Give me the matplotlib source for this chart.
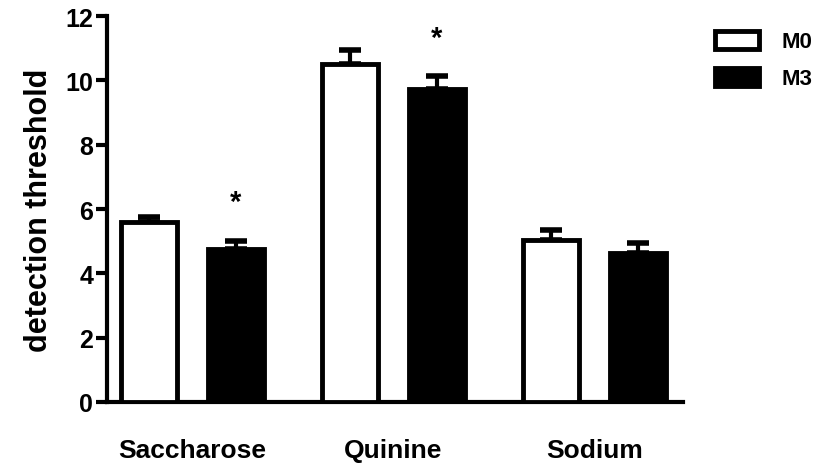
import matplotlib.pyplot as plt
import numpy as np

plt.rcParams['font.family'] = ['Liberation Sans', 'DejaVu Sans']
plt.rcParams['font.weight'] = 'bold'

# data
categories = ['Saccharose', 'Quinine', 'Sodium']
m0_mean = [5.6, 10.52, 5.05]
m0_err = [0.15, 0.42, 0.3]
m3_mean = [4.75, 9.72, 4.63]
m3_err = [0.27, 0.4, 0.3]
m3_star = [True, True, False]

fig = plt.figure(figsize=(8.24, 4.64), dpi=100)
ax = fig.add_axes([107/824, 1 - 403/464, (683-107)/824, (403-17)/464])

x = np.arange(len(categories))
off = 0.216
w = 0.275
lw = 3.5

ax.bar(x - off, m0_mean, w, color='white', edgecolor='black', linewidth=lw, label='M0', zorder=3)
ax.bar(x + off, m3_mean, w, color='black', edgecolor='black', linewidth=lw, label='M3', zorder=3)
ax.errorbar(x - off, m0_mean, yerr=[np.zeros(3), m0_err], fmt='none', ecolor='black',
            elinewidth=3, capsize=8, capthick=4, zorder=2)
ax.errorbar(x + off, m3_mean, yerr=[np.zeros(3), m3_err], fmt='none', ecolor='black',
            elinewidth=3, capsize=8, capthick=4, zorder=2)

# significance stars
for i in range(len(categories)):
    if m3_star[i]:
        ax.text(x[i] + off, m3_mean[i] + m3_err[i] + 0.75, '*', ha='center', va='bottom',
                fontsize=21, fontweight='bold')

ax.set_xlim(-0.425, 2.44)
ax.set_ylim(0, 12)
ax.set_yticks(range(0, 13, 2))
ax.set_xticks(x)
ax.set_xticklabels(categories, fontsize=19, fontweight='bold')
ax.tick_params(axis='x', length=0, pad=26)
ax.tick_params(axis='y', length=8, width=3, labelsize=18, pad=2)
for lab in ax.get_yticklabels():
    lab.set_fontweight('bold')
ax.set_ylabel('detection threshold', fontsize=22, fontweight='bold', labelpad=8)

for s in ['top', 'right']:
    ax.spines[s].set_visible(False)
for s in ['left', 'bottom']:
    ax.spines[s].set_linewidth(3)

leg = ax.legend(loc='upper left', bbox_to_anchor=(1.04, 0.985), frameon=False,
                prop={'size': 16, 'weight': 'bold'}, handlelength=2.0, handleheight=0.86,
                handletextpad=1.0, labelspacing=0.7, borderaxespad=0)

plt.savefig('out.png', dpi=100)
